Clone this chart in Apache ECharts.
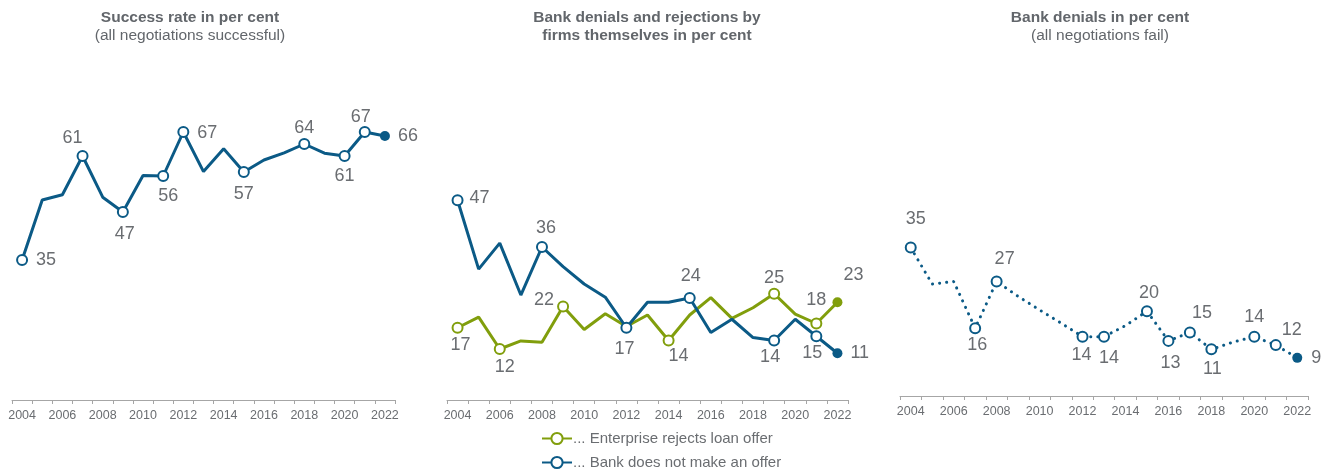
<!DOCTYPE html>
<html>
<head>
<meta charset="utf-8">
<script src="https://cdn.jsdelivr.net/npm/echarts@6/dist/echarts.min.js"></script>
<style>
  html, body { margin: 0; padding: 0; background: #fff; }
  #main { width: 1331px; height: 470px; }
</style>
</head>
<body>
<div id="main"></div>
<script>
// years on every axis
var years = ['2004', '2005', '2006', '2007', '2008', '2009', '2010', '2011', '2012', '2013',
             '2014', '2015', '2016', '2017', '2018', '2019', '2020', '2021', '2022'];

// success rate (all negotiations successful)
var successRate = [35, 50, 51.3, 61, 50.7, 47, 56.1, 56, 67, 57.1, 62.8, 57, 60, 61.8, 64, 61.7, 61, 67, 66];
// enterprise rejects loan offer
var firmRejects = [17, 19.5, 12, 13.9, 13.6, 22, 16.6, 20.3, 17.3, 20, 14, 20, 24.1, 19.2, 21.7, 25, 20.2, 18, 23];
// bank does not make an offer
var bankNoOffer = [47, 30.8, 36.9, 24.7, 36, 31.4, 27.3, 24.2, 17, 23, 23, 24, 15.9, 19, 14.7, 14, 19, 15, 11];
// bank denials (all negotiations fail)
var bankDenials = [35, 26.4, 27, 16, 27, 23.5, 20.3, 17.2, 14, 14, 16.6, 20, 13, 15, 11, 12.7, 14, 12, 9];

// where a marker + label is drawn: index -> [position, dx, dy]
var lab1 = {0: ['right', 3, 0], 3: ['top', -10, 2], 5: ['bottom', 2, 2], 7: ['bottom', 5, 0],
            8: ['right', 3, 1], 11: ['bottom', 0, 2], 14: ['top', 0, 4], 16: ['bottom', 0, 0],
            17: ['top', -4, 5], 18: ['right', 3, 0]};
var labGreen = {0: ['bottom', 3, -3], 2: ['bottom', 5, -2], 5: ['left', 2, -6], 10: ['bottom', 10, -4],
                15: ['top', 0, 4], 17: ['top', 0, -3], 18: ['top', 16, -8]};
var labBlue = {0: ['right', 1, -2], 4: ['top', 4, 1], 8: ['bottom', -2, 1], 11: ['top', 1, -2],
               15: ['bottom', -4, -3], 17: ['bottom', -4, -3], 18: ['right', 3, 0]};
var lab3 = {0: ['top', 5, -9], 3: ['bottom', 2, -3], 4: ['top', 8, -2], 8: ['bottom', -1, -2],
            9: ['bottom', 5, 1], 11: ['top', 2, 2], 12: ['bottom', 2, 2], 13: ['top', 12, 1],
            14: ['bottom', 1, 0], 16: ['top', 0, 0], 17: ['top', 16, 5], 18: ['right', 4, 0]};

var BLUE = '#0b5a86';
var GREEN = '#819e0c';
var TXT = '#6a6d71';
var FONT = '"Liberation Sans", Arial, sans-serif';

function buildData(vals, spec) {
    var out = [];
    for (var i = 0; i < vals.length; i++) {
        var s = spec[i];
        if (s) {
            out.push({
                value: vals[i],
                symbol: i === vals.length - 1 ? 'circle' : 'emptyCircle',
                label: { show: true, position: s[0], offset: [s[1], s[2]] }
            });
        } else {
            out.push({ value: vals[i], symbol: 'none' });
        }
    }
    return out;
}

function xAxisFor(idx) {
    return {
        type: 'category',
        gridIndex: idx,
        data: years,
        boundaryGap: true,
        axisLine: { lineStyle: { color: '#a6a6a6', width: 1 } },
        axisTick: { show: true, interval: 0, length: 4, inside: false, lineStyle: { color: '#a6a6a6' } },
        axisLabel: { interval: 1, color: TXT, fontSize: 12.5, fontFamily: FONT, margin: 9 }
    };
}

function yAxisFor(idx, max) {
    return { type: 'value', gridIndex: idx, min: 0, max: max, show: false, splitLine: { show: false } };
}

function lineSeries(name, idx, vals, spec, color, dotted) {
    return {
        name: name,
        type: 'line',
        xAxisIndex: idx,
        yAxisIndex: idx,
        data: buildData(vals, spec),
        symbol: 'emptyCircle',
        symbolSize: 10,
        showAllSymbol: true,
        itemStyle: { color: color, borderWidth: 1.5 },
        lineStyle: dotted
            ? { color: color, width: 3, type: [0.1, 7], cap: 'round' }
            : { color: color, width: 3 },
        label: { show: false, color: TXT, fontSize: 18, fontFamily: FONT, distance: 5 },
        emphasis: { disabled: true },
        z: dotted ? 2 : 3
    };
}

var chart = echarts.init(document.getElementById('main'), null, { renderer: 'canvas' });

var titleStyle = { color: '#62666b', fontSize: 15.5, fontWeight: 'bold', fontFamily: FONT, lineHeight: 18 };
var subStyle = { color: '#62666b', fontSize: 15.5, fontFamily: FONT, lineHeight: 18 };

chart.setOption({
    animation: false,
    backgroundColor: '#fff',
    title: [
        { text: 'Success rate in per cent', subtext: '(all negotiations successful)', left: 190, top: 9,
          padding: 0, textAlign: 'center', itemGap: 0, textStyle: titleStyle, subtextStyle: subStyle },
        { text: 'Bank denials and rejections by\nfirms themselves in per cent', left: 647, top: 9,
          padding: 0, textAlign: 'center', textStyle: titleStyle },
        { text: 'Bank denials in per cent', subtext: '(all negotiations fail)', left: 1100, top: 9,
          padding: 0, textAlign: 'center', itemGap: 0, textStyle: titleStyle, subtextStyle: subStyle }
    ],
    legend: {
        orient: 'vertical',
        left: 541,
        top: 431,
        padding: 0,
        itemWidth: 30,
        itemHeight: 14,
        itemGap: 9,
        data: ['... Enterprise rejects loan offer', '... Bank does not make an offer'],
        textStyle: { color: TXT, fontSize: 15, fontFamily: FONT, padding: [0, 0, 0, -4] }
    },
    grid: [
        { left: 12, width: 383, top: 100, height: 300 },
        { left: 447, width: 401, top: 145, height: 255 },
        { left: 900, width: 408, top: 184, height: 212 }
    ],
    xAxis: [xAxisFor(0), xAxisFor(1), xAxisFor(2)],
    yAxis: [yAxisFor(0, 75), yAxisFor(1, 60), yAxisFor(2, 50)],
    series: [
        lineSeries('Success rate', 0, successRate, lab1, BLUE, false),
        lineSeries('... Enterprise rejects loan offer', 1, firmRejects, labGreen, GREEN, false),
        lineSeries('... Bank does not make an offer', 1, bankNoOffer, labBlue, BLUE, false),
        lineSeries('Bank denials', 2, bankDenials, lab3, BLUE, true)
    ]
});
</script>
</body>
</html>
